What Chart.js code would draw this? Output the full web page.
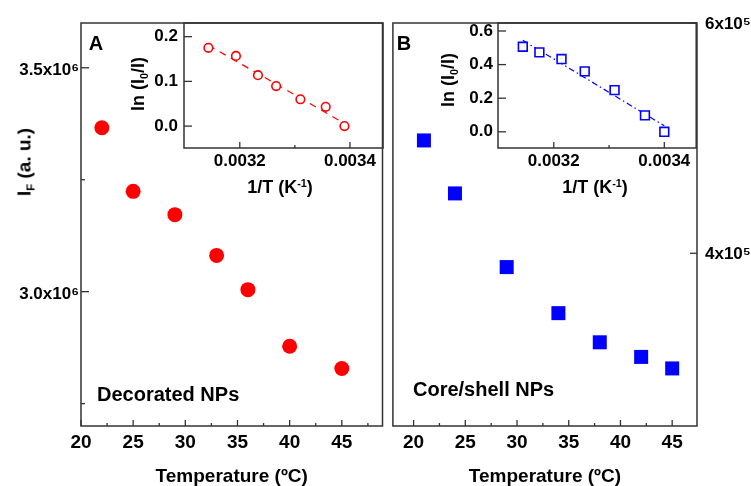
<!DOCTYPE html>
<html><head><meta charset="utf-8">
<script src="https://cdn.jsdelivr.net/npm/chart.js@4.4.1/dist/chart.umd.min.js"></script>
<style>
html,body{margin:0;padding:0;background:#fff;}
#wrap{position:relative;width:751px;height:486px;overflow:hidden;font-family:"Liberation Sans",Arial,sans-serif;font-weight:bold;color:#000;}
canvas{position:absolute;}
.lbl{position:absolute;white-space:nowrap;line-height:1;transform:translate(-50%,-50%);}
.rot{transform:translate(-50%,-50%) rotate(-90deg);}
.lft{transform:translate(0,-50%);}
.lbl sub{font-size:60%;position:relative;top:0.35em;vertical-align:baseline;}
.lbl sup{font-size:60%;position:relative;top:-0.55em;vertical-align:baseline;}
</style></head><body>
<div id="wrap">
<canvas id="cA" width="390" height="489" style="left:0;top:0"></canvas>
<canvas id="cB" width="368" height="489" style="left:383px;top:0"></canvas>
<canvas id="iA" width="280" height="200" style="left:110px;top:0"></canvas>
<canvas id="iB" width="284" height="200" style="left:420px;top:0"></canvas>
<div class="lbl rot" style="left:24px;top:162px;font-size:19px">I<sub>F</sub> (a. u.)</div>
<div class="lbl rot" style="left:138px;top:84px;font-size:18px">ln (I<sub>0</sub>/I)</div>
<div class="lbl rot" style="left:448px;top:80px;font-size:18px">ln (I<sub>0</sub>/I)</div>
<div class="lbl" style="left:280px;top:187px;font-size:18px">1/T (K<sup>-1</sup>)</div>
<div class="lbl" style="left:595px;top:187px;font-size:18px">1/T (K<sup>-1</sup>)</div>
<div class="lbl" style="left:96px;top:43px;font-size:20px">A</div>
<div class="lbl" style="left:404px;top:43px;font-size:20px">B</div>
<div class="lbl lft" style="left:97px;top:394px;font-size:20px">Decorated NPs</div>
<div class="lbl lft" style="left:413px;top:389px;font-size:20px">Core/shell NPs</div>
</div>
<script>
// ---- data ----
const tempA = [22, 25, 29, 33, 36, 40, 45];
const intensityA = [3.366e6, 3.224e6, 3.172e6, 3.081e6, 3.0045e6, 2.878e6, 2.8285e6];
const tempB = [21, 24, 29, 34, 38, 42, 45];
const intensityB = [4.98e5, 4.52e5, 3.88e5, 3.48e5, 3.227e5, 3.10e5, 3.00e5];
const invTA = [0.003143, 0.003193, 0.003233, 0.003266, 0.003310, 0.003356, 0.003390];
const lnRatioA = [0.175, 0.157, 0.114, 0.0895, 0.060, 0.043, 0.0];
const invTB = [0.003144, 0.003174, 0.003214, 0.003256, 0.003310, 0.003365, 0.003400];
const lnRatioB = [0.506, 0.473, 0.433, 0.360, 0.248, 0.098, 0.0];
const fitInvTA = [0.003143, 0.003390];
const fitLnA = [0.181, 0.006];
const fitInvTB = [0.003144, 0.003400];
const fitLnB = [0.545, 0.036];
// ---- ticks ----
const tempTicks = [20, 25, 30, 35, 40, 45];
const tempMinorTicks = [22.5, 27.5, 32.5, 37.5, 42.5, 47.5];
const yTicksA = [3.0e6, 3.5e6];
const yTickLabelsA = ['3.0x10\u2076', '3.5x10\u2076'];
const yMinorA = [2.75e6, 3.25e6];
const yTicksB = [4e5, 6e5];
const yTickLabelsB = ['4x10\u2075', '6x10\u2075'];
const invTTicks = [0.0032, 0.0034];
const invTMinor = [0.0033];
const lnTicksA = [0.0, 0.1, 0.2];
const lnTicksB = [0.0, 0.2, 0.4, 0.6];

const RED = '#ff0000', BLUE = '#0000ff', FRAME = '#333333';
const FONT = '"Liberation Sans", Arial, sans-serif';

const frameTicks = {
  id: 'frameTicks',
  afterDraw(chart, args, opts) {
    const ctx = chart.ctx, a = chart.chartArea;
    ctx.save();
    ctx.strokeStyle = FRAME;
    ctx.lineWidth = 1.5;
    ctx.strokeRect(a.left, a.top, a.right - a.left, a.bottom - a.top);
    ctx.lineWidth = 1.3;
    (opts.specs || []).forEach(sp => {
      const sc = chart.scales[sp.scale];
      const draw = (vals, len) => vals.forEach(v => {
        if (v < sc.min || v > sc.max) return;
        const p = sc.getPixelForValue(v);
        ctx.beginPath();
        if (sp.edge === 'bottom') { ctx.moveTo(p, a.bottom); ctx.lineTo(p, a.bottom - len); }
        else if (sp.edge === 'left') { ctx.moveTo(a.left, p); ctx.lineTo(a.left + len, p); }
        else { ctx.moveTo(a.right, p); ctx.lineTo(a.right - len, p); }
        ctx.stroke();
      });
      draw(sp.major || [], sp.majorLen);
      draw(sp.minor || [], sp.minorLen);
    });
    ctx.restore();
  }
};

function pts(xs, ys) { return xs.map((x, i) => ({x: x, y: ys[i]})); }
function setTicks(arr) { return s => { s.ticks = arr.map(v => ({value: v})); }; }

function scale(o) {
  return Object.assign({
    type: 'linear',
    grid: {display: false, drawTicks: false},
    border: {display: false},
  }, o);
}

function common(padding, specs, scales) {
  return {
    responsive: false, animation: false, events: [],
    layout: {padding: padding},
    plugins: {legend: {display: false}, tooltip: {enabled: false}, frameTicks: {specs: specs}},
    scales: scales
  };
}

// Panel A main
new Chart(document.getElementById('cA'), {
  type: 'scatter',
  data: {datasets: [{data: pts(tempA, intensityA), pointStyle: 'circle', pointRadius: 7.5,
    backgroundColor: RED, borderColor: RED, borderWidth: 0}]},
  options: common({top: 23, right: 7, left: 0, bottom: 0},
    [{scale: 'x', edge: 'bottom', major: tempTicks, minor: tempMinorTicks, majorLen: 6, minorLen: 3},
     {scale: 'y', edge: 'left', major: yTicksA, minor: yMinorA, majorLen: 8, minorLen: 4}],
    {
      x: scale({position: 'bottom', min: 20, max: 48.9, afterBuildTicks: setTicks(tempTicks),
        afterFit: s => { s.height = 63; },
        ticks: {autoSkip: false, maxRotation: 0, padding: 5, color: '#000', font: {family: FONT, size: 19, weight: 'bold'}, callback: v => String(v)},
        title: {display: true, text: 'Temperature (ºC)', color: '#000', padding: {top: 0, bottom: 1}, font: {family: FONT, size: 19, weight: 'bold'}}}),
      y: scale({position: 'left', min: 2.7e6, max: 3.6e6, afterBuildTicks: setTicks(yTicksA),
        afterFit: s => { s.width = 81; },
        ticks: {autoSkip: false, padding: 2, labelOffset: 3, color: '#000', font: {family: FONT, size: 17, weight: 'bold'},
          callback: v => yTickLabelsA[yTicksA.indexOf(v)]}})
    })
  , plugins: [frameTicks]
});

// Panel B main
new Chart(document.getElementById('cB'), {
  type: 'scatter',
  data: {datasets: [{data: pts(tempB, intensityB), pointStyle: 'rect', pointRadius: 9.9,
    backgroundColor: BLUE, borderColor: BLUE, borderWidth: 0}]},
  options: common({top: 23, right: 0, left: 7, bottom: 0},
    [{scale: 'x', edge: 'bottom', major: tempTicks, minor: tempMinorTicks, majorLen: 6, minorLen: 3},
     {scale: 'y', edge: 'right', major: yTicksB, minor: [], majorLen: 7, minorLen: 4}],
    {
      x: scale({position: 'bottom', min: 18, max: 47.4, afterBuildTicks: setTicks(tempTicks),
        afterFit: s => { s.height = 63; },
        ticks: {autoSkip: false, maxRotation: 0, padding: 5, color: '#000', font: {family: FONT, size: 19, weight: 'bold'}, callback: v => String(v)},
        title: {display: true, text: 'Temperature (ºC)', color: '#000', padding: {top: 0, bottom: 1}, font: {family: FONT, size: 19, weight: 'bold'}}}),
      y: scale({position: 'right', min: 2.5e5, max: 6e5, afterBuildTicks: setTicks(yTicksB),
        afterFit: s => { s.width = 54; },
        ticks: {autoSkip: false, padding: 8, labelOffset: 1, color: '#000', font: {family: FONT, size: 17, weight: 'bold'},
          callback: v => yTickLabelsB[yTicksB.indexOf(v)]}})
    })
  , plugins: [frameTicks]
});

// Inset A
new Chart(document.getElementById('iA'), {
  type: 'scatter',
  data: {datasets: [
    {data: pts(invTA, lnRatioA), pointStyle: 'circle', pointRadius: 4.3, borderWidth: 1.6,
      backgroundColor: '#ffffff', borderColor: RED},
    {data: pts(fitInvTA, fitLnA), showLine: true, pointRadius: 0, borderWidth: 1.2,
      borderColor: RED, borderDash: [7, 6]}
  ]},
  options: common({top: 23, right: 7, left: 0, bottom: 0},
    [{scale: 'x', edge: 'bottom', major: invTTicks, minor: invTMinor, majorLen: 6, minorLen: 3},
     {scale: 'y', edge: 'left', major: lnTicksA, minor: [], majorLen: 8, minorLen: 4}],
    {
      x: scale({position: 'bottom', min: 0.0030987, max: 0.00346, afterBuildTicks: setTicks(invTTicks),
        afterFit: s => { s.height = 52; },
        ticks: {autoSkip: false, maxRotation: 0, padding: 3, color: '#000', font: {family: FONT, size: 17, weight: 'bold'}, callback: v => v.toFixed(4)}}),
      y: scale({position: 'left', min: -0.049, max: 0.2306, afterBuildTicks: setTicks(lnTicksA),
        afterFit: s => { s.width = 74; },
        ticks: {autoSkip: false, padding: 6, color: '#000', font: {family: FONT, size: 17, weight: 'bold'}, callback: v => v.toFixed(1)}})
    })
  , plugins: [frameTicks]
});

// Inset B
new Chart(document.getElementById('iB'), {
  type: 'scatter',
  data: {datasets: [
    {data: pts(invTB, lnRatioB), pointStyle: 'rect', pointRadius: 6.2, borderWidth: 1.6,
      backgroundColor: '#ffffff', borderColor: BLUE},
    {data: pts(fitInvTB, fitLnB), showLine: true, pointRadius: 0, borderWidth: 1.2,
      borderColor: BLUE, borderDash: [6, 3, 1.5, 3]}
  ]},
  options: common({top: 23, right: 7, left: 0, bottom: 0},
    [{scale: 'x', edge: 'bottom', major: invTTicks, minor: invTMinor, majorLen: 6, minorLen: 3},
     {scale: 'y', edge: 'left', major: lnTicksB, minor: [], majorLen: 8, minorLen: 4}],
    {
      x: scale({position: 'bottom', min: 0.0030991, max: 0.0034577, afterBuildTicks: setTicks(invTTicks),
        afterFit: s => { s.height = 52; },
        ticks: {autoSkip: false, maxRotation: 0, padding: 3, color: '#000', font: {family: FONT, size: 17, weight: 'bold'}, callback: v => v.toFixed(4)}}),
      y: scale({position: 'left', min: -0.0964, max: 0.6476, afterBuildTicks: setTicks(lnTicksB),
        afterFit: s => { s.width = 78; },
        ticks: {autoSkip: false, padding: 5, color: '#000', font: {family: FONT, size: 17, weight: 'bold'}, callback: v => v.toFixed(1)}})
    })
  , plugins: [frameTicks]
});
</script>
</body></html>
